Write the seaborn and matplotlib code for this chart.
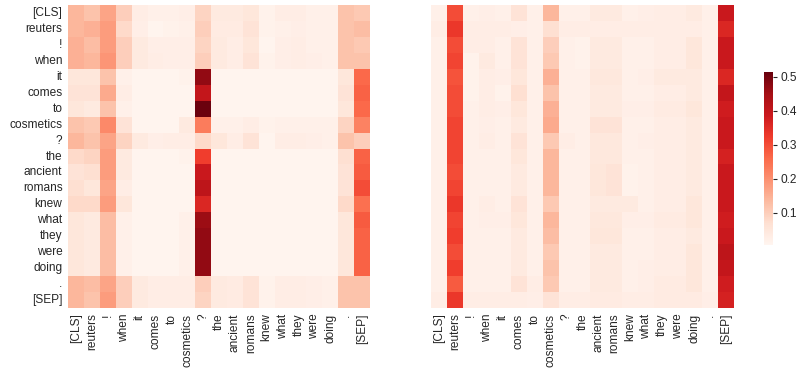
import matplotlib
matplotlib.use("Agg")
import matplotlib.pyplot as plt
import seaborn as sns
import numpy as np
import pandas as pd

tokens = ["[CLS]", "reuters", "!", "when", "it", "comes", "to", "cosmetics", "?",
          "the", "ancient", "romans", "knew", "what", "they", "were", "doing", ".", "[SEP]"]

# left head: attention weights (rows = query token, cols = key token)
attn_left = [
    [0.14, 0.12, 0.17, 0.10, 0.03, 0.02, 0.02, 0.025, 0.09, 0.04, 0.04, 0.05, 0.015, 0.03, 0.03, 0.02, 0.02, 0.12, 0.11],
    [0.14, 0.15, 0.18, 0.08, 0.025, 0.01, 0.015, 0.02, 0.10, 0.035, 0.035, 0.06, 0.015, 0.02, 0.025, 0.02, 0.02, 0.12, 0.13],
    [0.15, 0.13, 0.18, 0.10, 0.04, 0.025, 0.025, 0.025, 0.09, 0.04, 0.03, 0.05, 0.01, 0.025, 0.03, 0.02, 0.02, 0.12, 0.11],
    [0.15, 0.14, 0.19, 0.10, 0.04, 0.03, 0.025, 0.025, 0.10, 0.04, 0.03, 0.06, 0.015, 0.025, 0.03, 0.025, 0.02, 0.12, 0.12],
    [0.05, 0.05, 0.12, 0.02, 0.01, 0.01, 0.01, 0.015, 0.47, 0.01, 0.01, 0.01, 0.01, 0.01, 0.01, 0.01, 0.01, 0.05, 0.26],
    [0.06, 0.06, 0.16, 0.03, 0.01, 0.01, 0.01, 0.01, 0.40, 0.01, 0.01, 0.01, 0.01, 0.01, 0.01, 0.01, 0.01, 0.06, 0.27],
    [0.05, 0.04, 0.12, 0.02, 0.01, 0.01, 0.01, 0.01, 0.51, 0.01, 0.01, 0.01, 0.01, 0.01, 0.01, 0.01, 0.01, 0.05, 0.26],
    [0.12, 0.11, 0.21, 0.06, 0.01, 0.01, 0.01, 0.04, 0.23, 0.02, 0.02, 0.03, 0.015, 0.02, 0.02, 0.02, 0.02, 0.09, 0.22],
    [0.14, 0.12, 0.17, 0.09, 0.04, 0.025, 0.03, 0.03, 0.08, 0.05, 0.03, 0.06, 0.01, 0.03, 0.03, 0.025, 0.02, 0.12, 0.10],
    [0.08, 0.09, 0.18, 0.04, 0.01, 0.01, 0.01, 0.015, 0.32, 0.01, 0.01, 0.01, 0.01, 0.01, 0.01, 0.01, 0.01, 0.07, 0.27],
    [0.06, 0.07, 0.18, 0.04, 0.01, 0.01, 0.01, 0.01, 0.39, 0.01, 0.01, 0.01, 0.01, 0.01, 0.01, 0.01, 0.01, 0.06, 0.28],
    [0.07, 0.05, 0.17, 0.03, 0.01, 0.01, 0.01, 0.01, 0.41, 0.01, 0.01, 0.01, 0.01, 0.01, 0.01, 0.01, 0.01, 0.06, 0.30],
    [0.08, 0.08, 0.18, 0.05, 0.01, 0.01, 0.01, 0.01, 0.36, 0.01, 0.01, 0.01, 0.01, 0.01, 0.01, 0.01, 0.01, 0.08, 0.25],
    [0.05, 0.04, 0.13, 0.02, 0.01, 0.01, 0.01, 0.02, 0.46, 0.01, 0.01, 0.01, 0.01, 0.01, 0.01, 0.01, 0.01, 0.05, 0.28],
    [0.05, 0.04, 0.13, 0.02, 0.01, 0.01, 0.01, 0.02, 0.47, 0.01, 0.01, 0.01, 0.01, 0.01, 0.01, 0.01, 0.01, 0.05, 0.27],
    [0.05, 0.04, 0.13, 0.02, 0.01, 0.01, 0.01, 0.02, 0.47, 0.01, 0.01, 0.01, 0.01, 0.01, 0.01, 0.01, 0.01, 0.05, 0.27],
    [0.05, 0.04, 0.13, 0.02, 0.01, 0.01, 0.01, 0.02, 0.47, 0.01, 0.01, 0.01, 0.01, 0.01, 0.01, 0.01, 0.01, 0.05, 0.27],
    [0.14, 0.13, 0.17, 0.10, 0.04, 0.03, 0.03, 0.03, 0.10, 0.04, 0.035, 0.06, 0.015, 0.03, 0.03, 0.025, 0.02, 0.12, 0.12],
    [0.14, 0.12, 0.18, 0.10, 0.04, 0.03, 0.03, 0.03, 0.09, 0.04, 0.035, 0.06, 0.015, 0.03, 0.03, 0.025, 0.02, 0.12, 0.12],
]

# right head
attn_right = [
    [0.02, 0.30, 0.02, 0.025, 0.02, 0.06, 0.02, 0.14, 0.02, 0.02, 0.04, 0.04, 0.02, 0.025, 0.03, 0.03, 0.04, 0.02, 0.39],
    [0.03, 0.33, 0.03, 0.03, 0.03, 0.025, 0.02, 0.07, 0.03, 0.03, 0.03, 0.03, 0.03, 0.03, 0.03, 0.03, 0.03, 0.02, 0.36],
    [0.02, 0.30, 0.03, 0.03, 0.02, 0.06, 0.02, 0.10, 0.02, 0.015, 0.04, 0.04, 0.02, 0.02, 0.03, 0.03, 0.05, 0.02, 0.39],
    [0.02, 0.31, 0.015, 0.04, 0.02, 0.06, 0.02, 0.11, 0.02, 0.015, 0.04, 0.04, 0.02, 0.02, 0.03, 0.03, 0.05, 0.02, 0.39],
    [0.02, 0.29, 0.015, 0.03, 0.025, 0.05, 0.02, 0.15, 0.02, 0.02, 0.045, 0.045, 0.02, 0.025, 0.04, 0.04, 0.04, 0.02, 0.36],
    [0.02, 0.30, 0.015, 0.03, 0.015, 0.07, 0.02, 0.12, 0.02, 0.02, 0.04, 0.04, 0.02, 0.02, 0.03, 0.03, 0.04, 0.02, 0.40],
    [0.02, 0.30, 0.02, 0.03, 0.025, 0.05, 0.02, 0.15, 0.02, 0.02, 0.04, 0.04, 0.025, 0.025, 0.035, 0.035, 0.05, 0.02, 0.38],
    [0.02, 0.31, 0.02, 0.025, 0.02, 0.04, 0.02, 0.16, 0.02, 0.02, 0.06, 0.06, 0.02, 0.02, 0.03, 0.03, 0.04, 0.02, 0.39],
    [0.02, 0.31, 0.02, 0.03, 0.02, 0.06, 0.02, 0.11, 0.03, 0.02, 0.045, 0.045, 0.02, 0.025, 0.03, 0.03, 0.04, 0.02, 0.39],
    [0.02, 0.31, 0.02, 0.02, 0.02, 0.05, 0.02, 0.14, 0.02, 0.02, 0.045, 0.045, 0.02, 0.02, 0.03, 0.03, 0.04, 0.02, 0.37],
    [0.02, 0.30, 0.02, 0.02, 0.02, 0.04, 0.02, 0.14, 0.02, 0.02, 0.05, 0.06, 0.015, 0.02, 0.03, 0.03, 0.04, 0.02, 0.39],
    [0.02, 0.31, 0.02, 0.02, 0.02, 0.04, 0.02, 0.14, 0.02, 0.02, 0.05, 0.06, 0.015, 0.02, 0.03, 0.03, 0.04, 0.02, 0.39],
    [0.02, 0.33, 0.02, 0.03, 0.02, 0.06, 0.02, 0.11, 0.02, 0.02, 0.04, 0.04, 0.04, 0.02, 0.03, 0.03, 0.05, 0.02, 0.39],
    [0.02, 0.31, 0.02, 0.025, 0.025, 0.05, 0.02, 0.14, 0.02, 0.02, 0.045, 0.045, 0.025, 0.025, 0.035, 0.035, 0.05, 0.02, 0.38],
    [0.02, 0.32, 0.02, 0.02, 0.02, 0.04, 0.02, 0.13, 0.02, 0.02, 0.05, 0.05, 0.02, 0.02, 0.03, 0.03, 0.04, 0.02, 0.39],
    [0.02, 0.30, 0.02, 0.02, 0.02, 0.04, 0.02, 0.11, 0.02, 0.02, 0.04, 0.04, 0.02, 0.02, 0.03, 0.03, 0.05, 0.02, 0.41],
    [0.02, 0.32, 0.02, 0.02, 0.02, 0.04, 0.02, 0.12, 0.02, 0.02, 0.04, 0.04, 0.02, 0.025, 0.03, 0.03, 0.05, 0.02, 0.40],
    [0.02, 0.28, 0.02, 0.02, 0.02, 0.06, 0.03, 0.11, 0.02, 0.02, 0.04, 0.04, 0.02, 0.025, 0.035, 0.035, 0.05, 0.02, 0.38],
    [0.03, 0.33, 0.03, 0.03, 0.03, 0.03, 0.025, 0.06, 0.03, 0.03, 0.035, 0.035, 0.03, 0.03, 0.035, 0.035, 0.035, 0.025, 0.37],
]

cbar_ticks = [0.1, 0.2, 0.3, 0.4, 0.5]

sns.set_style("white")
plt.rcParams['font.family'] = ['Liberation Sans', 'DejaVu Sans']
plt.rcParams['font.size'] = 8.6

df_left = pd.DataFrame(attn_left, index=tokens, columns=tokens)
df_right = pd.DataFrame(attn_right, index=tokens, columns=tokens)

fig = plt.figure(figsize=(8.06, 3.74), dpi=100)
ax1 = fig.add_axes([0.0844, 0.1765, 0.3747, 0.810])
ax2 = fig.add_axes([0.5347, 0.1765, 0.3760, 0.810])
cax = fig.add_axes([0.948, 0.345, 0.0112, 0.4626])

vmin, vmax = 0.005, 0.514
sns.heatmap(df_left, ax=ax1, cmap="Reds", vmin=vmin, vmax=vmax, cbar=False,
            xticklabels=True, yticklabels=True)
sns.heatmap(df_right, ax=ax2, cmap="Reds", vmin=vmin, vmax=vmax, cbar_ax=cax,
            xticklabels=True, yticklabels=False, cbar_kws={"ticks": cbar_ticks})

for ax in (ax1, ax2):
    ax.set_xticklabels(ax.get_xticklabels(), rotation=90, fontsize=8.6)
    ax.tick_params(length=0, pad=4)
ax1.set_yticklabels(ax1.get_yticklabels(), rotation=0, fontsize=8.6)

cax.tick_params(labelsize=8.6, length=3, width=0.8, pad=2)
cax.set_yticklabels(["0.1", "0.2", "0.3", "0.4", "0.5"])
for s in cax.spines.values():
    s.set_visible(False)

fig.savefig("out.png", dpi=100)
